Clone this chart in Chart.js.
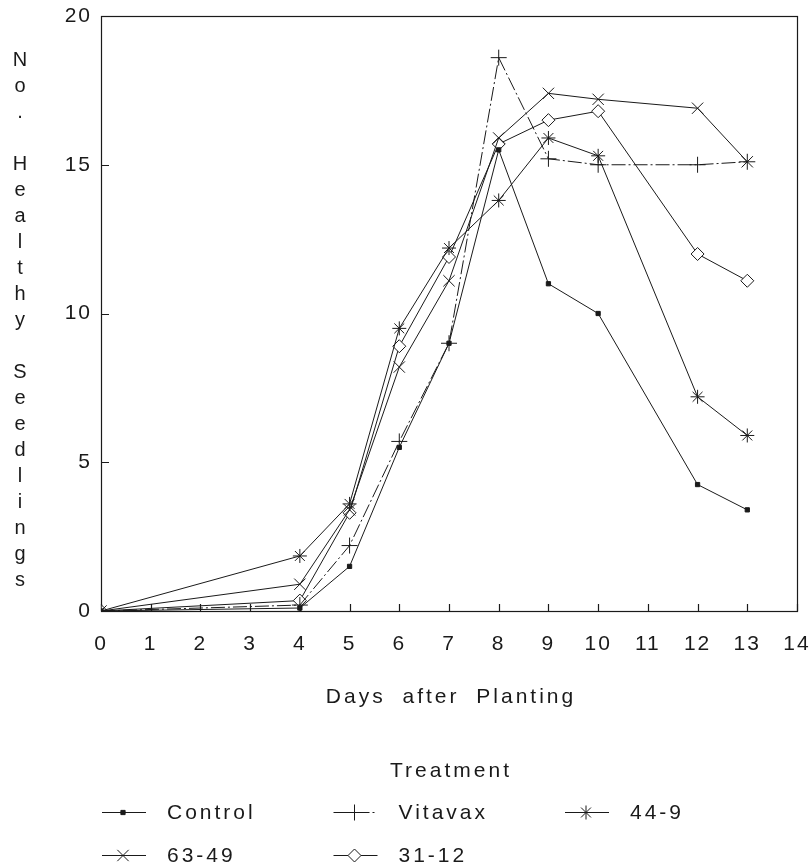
<!DOCTYPE html>
<html>
<head>
<meta charset="utf-8">
<title>Healthy seedlings</title>
<script src="https://cdn.jsdelivr.net/npm/chart.js@4.4.0/dist/chart.umd.min.js"></script>
<style>
  html, body { margin: 0; padding: 0; background: #fff; }
  #wrap { width: 811px; height: 867px; }
</style>
</head>
<body>
<div id="wrap"><canvas id="seedChart" width="811" height="867"></canvas></div>
<script>
// days on which seedlings were counted
const days = [0, 4, 5, 6, 7, 8, 9, 10, 12, 13];
const treatments = ["Control", "Vitavax", "44-9", "63-49", "31-12"];
const controlValues = [0, 0.1, 1.5, 5.5, 9.0, 15.5, 11.0, 10.0, 4.25, 3.4];
const vitavaxValues = [0, 0.2, 2.2, 5.7, 9.0, 18.6, 15.2, 15.0, 15.0, 15.1];
const values449 = [0, 1.85, 3.6, 9.5, 12.2, 13.8, 15.9, 15.3, 7.2, 5.9];
const values6349 = [0, 0.9, 3.4, 8.2, 11.1, 15.9, 17.4, 17.2, 16.9, 15.1];
const values3112 = [0, 0.35, 3.3, 8.9, 11.9, 15.7, 16.5, 16.8, 12.0, 11.1];
const xTickValues = [0, 1, 2, 3, 4, 5, 6, 7, 8, 9, 10, 11, 12, 13, 14];
const yTickValues = [0, 5, 10, 15, 20];

const yTitle = "No. Healthy Seedlings";
const xTitle = "Days after Planting";
const legendTitle = "Treatment";

const allValues = [controlValues, vitavaxValues, values449, values6349, values3112];
const pointStyles = ["rect", "cross", "star", "crossRot", "rectRot"];
const pointSizes = [3, 8, 7, 8, 6.5];
const dashes = [[], [14, 3, 2, 3], [], [], []];

const fontFamily = "'Liberation Sans', Arial, Helvetica, sans-serif";
const ink = "#1a1a1a";

const datasets = treatments.map((name, i) => ({
    label: name,
    data: days.map((d, j) => ({ x: d, y: allValues[i][j] })),
    borderColor: ink,
    borderWidth: 1,
    borderDash: dashes[i],
    pointStyle: pointStyles[i],
    pointRadius: pointSizes[i],
    pointBorderWidth: 1,
    pointBorderColor: ink,
    pointBackgroundColor: i === 0 ? ink : "#fff",
    tension: 0,
    fill: false
}));

// frame, inward ticks, titles and the legend as on the printed figure
const paperFrame = {
    id: "paperFrame",
    beforeDraw(chart) {
        const ctx = chart.ctx;
        ctx.save();
        ctx.fillStyle = "#fff";
        ctx.fillRect(0, 0, chart.width, chart.height);
        ctx.restore();
        ctx.letterSpacing = "2px";
    },
    beforeDatasetsDraw(chart) {
        const ctx = chart.ctx;
        const xs = chart.scales.x, ys = chart.scales.y;
        const left = Math.round(xs.getPixelForValue(xTickValues[0]));
        const right = Math.round(xs.getPixelForValue(xTickValues[xTickValues.length - 1]));
        const top = Math.round(ys.getPixelForValue(yTickValues[yTickValues.length - 1]));
        const bottom = Math.round(ys.getPixelForValue(yTickValues[0]));
        ctx.save();
        ctx.strokeStyle = ink;
        ctx.lineWidth = 1.2;
        ctx.strokeRect(left + 0.5, top + 0.5, right - left, bottom - top);
        ctx.beginPath();
        xTickValues.forEach(v => {
            const px = Math.round(xs.getPixelForValue(v)) + 0.5;
            ctx.moveTo(px, bottom);
            ctx.lineTo(px, bottom - 7);
        });
        yTickValues.forEach(v => {
            const py = Math.round(ys.getPixelForValue(v)) + 0.5;
            ctx.moveTo(left, py);
            ctx.lineTo(left + 8, py);
        });
        ctx.stroke();
        ctx.restore();
    },
    afterDraw(chart) {
        const ctx = chart.ctx;
        const xs = chart.scales.x;
        ctx.save();
        ctx.fillStyle = ink;
        ctx.font = "20px " + fontFamily;
        ctx.textAlign = "center";
        ctx.textBaseline = "middle";
        ctx.letterSpacing = "0px";
        // stacked y title
        yTitle.split("").forEach((ch, i) => {
            if (ch !== " ") ctx.fillText(ch, 20, 60 + i * 26);
        });
        ctx.font = "21px " + fontFamily;
        ctx.letterSpacing = "3px";
        ctx.wordSpacing = "8px";
        const left = xs.getPixelForValue(0);
        const mid = xs.getPixelForValue(7);
        ctx.fillText(xTitle, mid + 2, 697);
        ctx.fillText(legendTitle, mid + 2, 771);

        // legend, three per row
        ctx.textAlign = "left";
        datasets.forEach((ds, i) => {
            const col = i % 3, row = Math.floor(i / 3);
            const x0 = left + 1 + col * 231.5;
            const y0 = 812 + row * 43;
            ctx.save();
            ctx.strokeStyle = ink;
            ctx.lineWidth = 1;
            ctx.setLineDash(ds.borderDash);
            ctx.beginPath();
            ctx.moveTo(x0, y0 + 0.5);
            ctx.lineTo(x0 + 44, y0 + 0.5);
            ctx.stroke();
            ctx.setLineDash([]);
            ctx.fillStyle = ds.pointBackgroundColor;
            Chart.helpers.drawPoint(ctx, {
                pointStyle: ds.pointStyle,
                radius: ds.pointRadius,
                borderWidth: 1,
                rotation: 0
            }, x0 + 21, y0 + 0.5);
            ctx.restore();
            ctx.fillText(ds.label, x0 + 65, y0 + 1);
        });
        ctx.restore();
    }
};

const seedCtx = document.getElementById("seedChart").getContext("2d");
const seedChart = new Chart(seedCtx, {
    type: "line",
    data: { datasets: datasets },
    plugins: [paperFrame],
    options: {
        responsive: false,
        animation: false,
        devicePixelRatio: 1,
        layout: { padding: { top: 16, right: 14, left: 0, bottom: 0 } },
        plugins: {
            legend: { display: false },
            tooltip: { enabled: false }
        },
        scales: {
            x: {
                type: "linear",
                min: 0,
                max: 14,
                afterFit: s => { s.height = 256; s.paddingLeft = 0; s.paddingRight = 0; },
                afterBuildTicks: s => { s.ticks = xTickValues.map(v => ({ value: v })); },
                grid: { display: false, drawTicks: false },
                border: { display: false },
                ticks: {
                    padding: 21,
                    color: ink,
                    font: { family: fontFamily, size: 21 }
                }
            },
            y: {
                type: "linear",
                min: 0,
                max: 20,
                afterFit: s => { s.width = 101; s.paddingTop = 0; s.paddingBottom = 0; },
                afterBuildTicks: s => { s.ticks = yTickValues.map(v => ({ value: v })); },
                grid: { display: false, drawTicks: false },
                border: { display: false },
                ticks: {
                    padding: 9,
                    color: ink,
                    font: { family: fontFamily, size: 21 }
                }
            }
        }
    }
});
</script>
</body>
</html>
